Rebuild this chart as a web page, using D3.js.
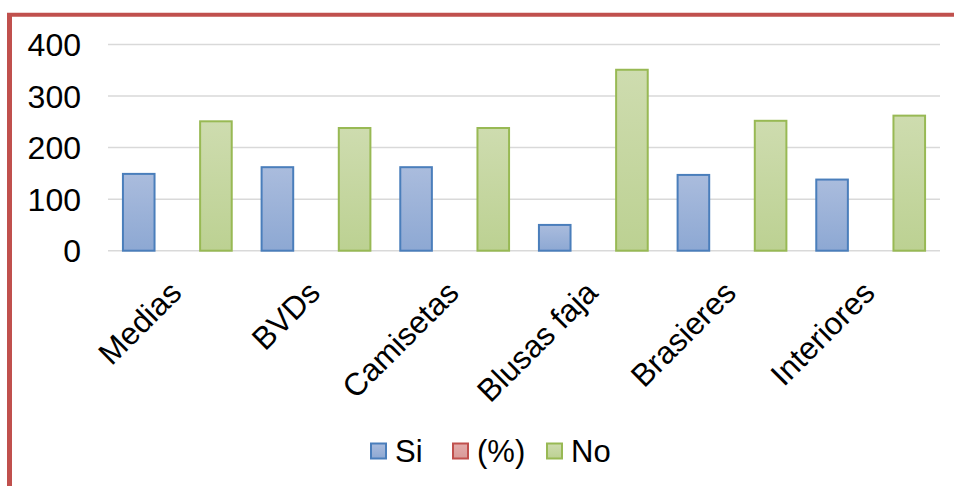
<!DOCTYPE html>
<html>
<head>
<meta charset="utf-8">
<script src="https://cdn.jsdelivr.net/npm/d3@7"></script>
<style>
  html, body { margin: 0; padding: 0; background: #fff; }
  svg { display: block; font-family: "Liberation Sans", Arial, sans-serif; }
</style>
</head>
<body>
<svg id="chart" width="954" height="486"></svg>
<script>
// Garment categories and survey counts per answer
const categories = ["Medias", "BVDs", "Camisetas", "Blusas faja", "Brasieres", "Interiores"];
const seriesNames = ["Si", "(%)", "No"];
const siValues = [149, 162, 162, 50, 147, 138];
const pctValues = [0, 0, 0, 0, 0, 0];
const noValues = [251, 238, 238, 351, 252, 262];
const yTicks = [0, 100, 200, 300, 400];

const seriesValues = { "Si": siValues, "(%)": pctValues, "No": noValues };
const styles = {
  "Si":  { stroke: "#4a7ebb", top: "#aabcdd", bottom: "#8da8d3", grad: "gSi" },
  "(%)": { stroke: "#c0504d", top: "#e3acab", bottom: "#d99a98", grad: "gPct" },
  "No":  { stroke: "#98b954", top: "#cedcaf", bottom: "#bcd192", grad: "gNo" }
};

const svg = d3.select("#chart");
const W = 954, H = 486;
const plot = { left: 108, right: 940, top: 44.5, bottom: 250.7 };

// vertical gradients for bar fills
const defs = svg.append("defs");
seriesNames.forEach(s => {
  const g = defs.append("linearGradient").attr("id", styles[s].grad)
    .attr("x1", 0).attr("y1", 0).attr("x2", 0).attr("y2", 1);
  g.append("stop").attr("offset", "0%").attr("stop-color", styles[s].top);
  g.append("stop").attr("offset", "100%").attr("stop-color", styles[s].bottom);
});

const x0 = d3.scaleBand().domain(categories).range([plot.left, plot.right]).padding(0);
const groupW = x0.bandwidth() * 0.835;
const x1 = d3.scaleBand().domain(seriesNames)
  .range([-groupW / 2, groupW / 2]).paddingInner(0.181).paddingOuter(0.0905);
const y = d3.scaleLinear().domain([0, 400]).range([plot.bottom, plot.top]);

// gridlines
svg.append("g").selectAll("line").data(yTicks).join("line")
  .attr("x1", plot.left).attr("x2", plot.right)
  .attr("y1", d => y(d)).attr("y2", d => y(d))
  .attr("stroke", "#d9d9d9").attr("stroke-width", 1.5);

// y axis labels
const yAxis = d3.axisLeft(y).tickValues(yTicks).tickSize(0).tickPadding(0);
const yg = svg.append("g").attr("transform", "translate(81,0)").call(yAxis);
yg.select(".domain").remove();
yg.selectAll("text").attr("font-size", 32).attr("fill", "#000")
  .attr("font-family", "Liberation Sans, Arial, sans-serif").attr("dy", "0.35em");

// bars
const groups = svg.append("g").selectAll("g").data(categories).join("g")
  .attr("transform", d => `translate(${x0(d) + x0.bandwidth() / 2},0)`);
groups.selectAll("rect")
  .data((c, i) => seriesNames.filter(s => seriesValues[s][i] > 0).map(s => ({ s, v: seriesValues[s][i] })))
  .join("rect")
  .attr("x", d => x1(d.s))
  .attr("width", x1.bandwidth())
  .attr("y", d => y(d.v))
  .attr("height", d => y(0) - y(d.v))
  .attr("fill", d => `url(#${styles[d.s].grad})`)
  .attr("stroke", d => styles[d.s].stroke)
  .attr("stroke-width", 2);

// category labels, rotated
const xAxis = d3.axisBottom(x0).tickSize(0).tickPadding(0);
const xg = svg.append("g").attr("transform", `translate(0,${plot.bottom})`).call(xAxis);
xg.select(".domain").remove();
xg.selectAll(".tick text")
  .attr("font-size", 31.5).attr("fill", "#000")
  .attr("font-family", "Liberation Sans, Arial, sans-serif")
  .attr("text-anchor", "end")
  .attr("y", 0).attr("dy", 0)
  .attr("transform", "translate(6,44) rotate(-45)");

// legend
const legendItems = [
  { s: "Si", x: 370 },
  { s: "(%)", x: 452 },
  { s: "No", x: 546 }
];
const lg = svg.append("g");
legendItems.forEach(it => {
  lg.append("rect").attr("x", it.x + 1).attr("y", 443.5).attr("width", 15).attr("height", 15)
    .attr("fill", `url(#${styles[it.s].grad})`).attr("stroke", styles[it.s].stroke).attr("stroke-width", 2);
  lg.append("text").attr("x", it.x + 25).attr("y", 462).attr("font-size", 31).attr("fill", "#000")
    .text(it.s);
});

// frame edges
svg.append("line").attr("x1", 7).attr("x2", W).attr("y1", 14.8).attr("y2", 14.8)
  .attr("stroke", "#c0504d").attr("stroke-width", 4);
svg.append("line").attr("x1", 9.5).attr("x2", 9.5).attr("y1", 13).attr("y2", H)
  .attr("stroke", "#c0504d").attr("stroke-width", 5);
</script>
</body>
</html>
